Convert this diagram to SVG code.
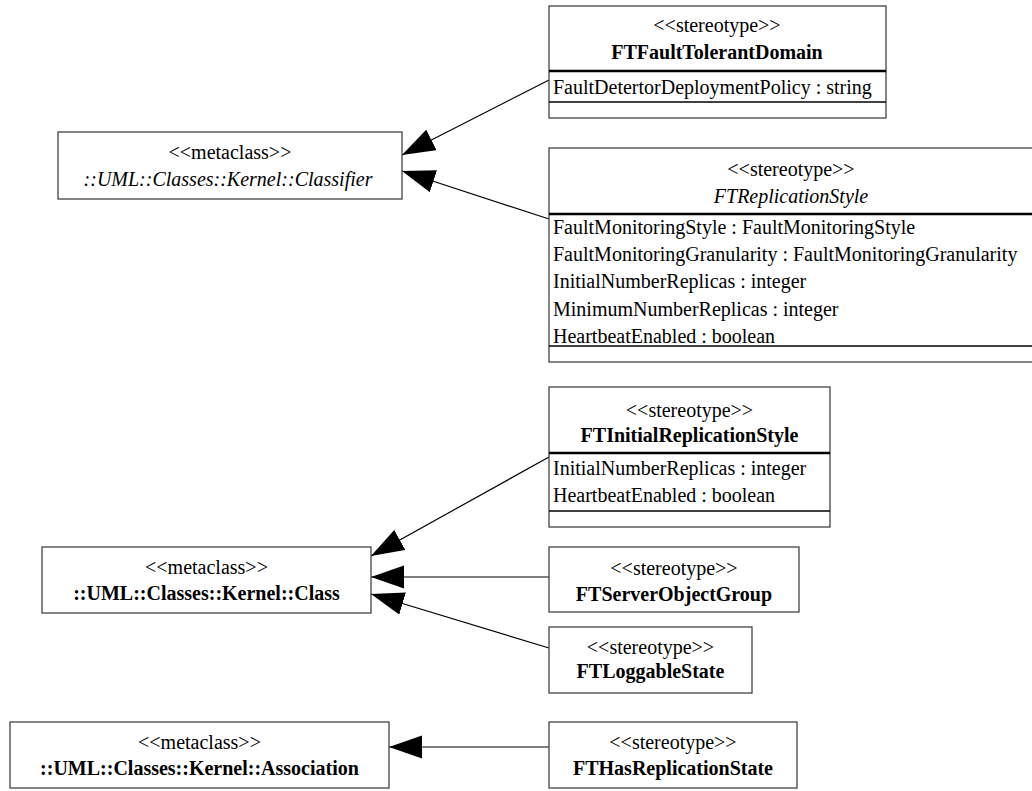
<svg xmlns="http://www.w3.org/2000/svg" width="1032" height="791" viewBox="0 0 1032 791">
<style>
text{font-family:"Liberation Serif","Times New Roman",serif;font-size:20px;fill:#000}
.c{text-anchor:middle}
.b{font-weight:bold}
.i{font-style:italic}
.box{fill:#fff;stroke:#444;stroke-width:1.3}
.thick{stroke:#000;stroke-width:2.5}
.thin{stroke:#000;stroke-width:1.3}
.conn line{stroke:#000;stroke-width:1.2;marker-end:url(#tri)}
</style>
<defs>
<marker id="tri" markerUnits="userSpaceOnUse" markerWidth="34" markerHeight="24" refX="33" refY="11.5" orient="auto">
<path d="M0,0 L33,11.5 L0,23 z" fill="#000"/>
</marker>
</defs>
<g id="connectors" class="conn">
<line x1="549" y1="80" x2="402" y2="155"/>
<line x1="549" y1="219" x2="402" y2="171"/>
<line x1="549" y1="457" x2="371" y2="556"/>
<line x1="549" y1="577" x2="371" y2="577"/>
<line x1="549" y1="648" x2="371" y2="594"/>
<line x1="549" y1="747" x2="389" y2="747"/>
</g>
<g id="FTFaultTolerantDomain">
<rect class="box" x="549" y="6" width="337" height="112"/>
<line class="thick" x1="549" y1="71" x2="886" y2="71"/>
<line class="thin" x1="549" y1="102" x2="886" y2="102"/>
<text class="c" x="717" y="31.5">&lt;&lt;stereotype&gt;&gt;</text>
<text class="c b" x="717" y="58.5">FTFaultTolerantDomain</text>
<text x="553" y="93.5">FaultDetertorDeploymentPolicy : string</text>
</g>
<g id="Classifier">
<rect class="box" x="58" y="132" width="344" height="67"/>
<text class="c" x="230" y="158.5">&lt;&lt;metaclass&gt;&gt;</text>
<text class="c i" x="228" y="185.5">::UML::Classes::Kernel::Classifier</text>
</g>
<g id="FTReplicationStyle">
<rect class="box" x="549" y="148" width="486" height="214"/>
<line class="thick" x1="549" y1="214" x2="1035" y2="214"/>
<line class="thin" x1="549" y1="346" x2="1035" y2="346"/>
<text class="c" x="791" y="175.5">&lt;&lt;stereotype&gt;&gt;</text>
<text class="c i" x="791" y="202.5">FTReplicationStyle</text>
<text x="553" y="233.5">FaultMonitoringStyle : FaultMonitoringStyle</text>
<text x="553" y="260.5">FaultMonitoringGranularity : FaultMonitoringGranularity</text>
<text x="553" y="288">InitialNumberReplicas : integer</text>
<text x="553" y="315.5">MinimumNumberReplicas : integer</text>
<text x="553" y="343">HeartbeatEnabled : boolean</text>
</g>
<g id="FTInitialReplicationStyle">
<rect class="box" x="549" y="387" width="281" height="140"/>
<line class="thick" x1="549" y1="453" x2="830" y2="453"/>
<line class="thin" x1="549" y1="511" x2="830" y2="511"/>
<text class="c" x="689.5" y="416.5">&lt;&lt;stereotype&gt;&gt;</text>
<text class="c b" x="689.5" y="441.5">FTInitialReplicationStyle</text>
<text x="553" y="474.5">InitialNumberReplicas : integer</text>
<text x="553" y="501.5">HeartbeatEnabled : boolean</text>
</g>
<g id="Class">
<rect class="box" x="42" y="547" width="329" height="66"/>
<text class="c" x="206.5" y="573.5">&lt;&lt;metaclass&gt;&gt;</text>
<text class="c b" x="206.5" y="599.5">::UML::Classes::Kernel::Class</text>
</g>
<g id="FTServerObjectGroup">
<rect class="box" x="549" y="547" width="250" height="65"/>
<text class="c" x="674" y="574.5">&lt;&lt;stereotype&gt;&gt;</text>
<text class="c b" x="674" y="600.5">FTServerObjectGroup</text>
</g>
<g id="FTLoggableState">
<rect class="box" x="549" y="627" width="203" height="66"/>
<text class="c" x="650.5" y="653.5">&lt;&lt;stereotype&gt;&gt;</text>
<text class="c b" x="650.5" y="677.5">FTLoggableState</text>
</g>
<g id="Association">
<rect class="box" x="10" y="722" width="379" height="66"/>
<text class="c" x="199.5" y="748.5">&lt;&lt;metaclass&gt;&gt;</text>
<text class="c b" x="199.5" y="774.5">::UML::Classes::Kernel::Association</text>
</g>
<g id="FTHasReplicationState">
<rect class="box" x="549" y="722" width="248" height="66"/>
<text class="c" x="673" y="748.5">&lt;&lt;stereotype&gt;&gt;</text>
<text class="c b" x="673" y="774.5">FTHasReplicationState</text>
</g>
</svg>
